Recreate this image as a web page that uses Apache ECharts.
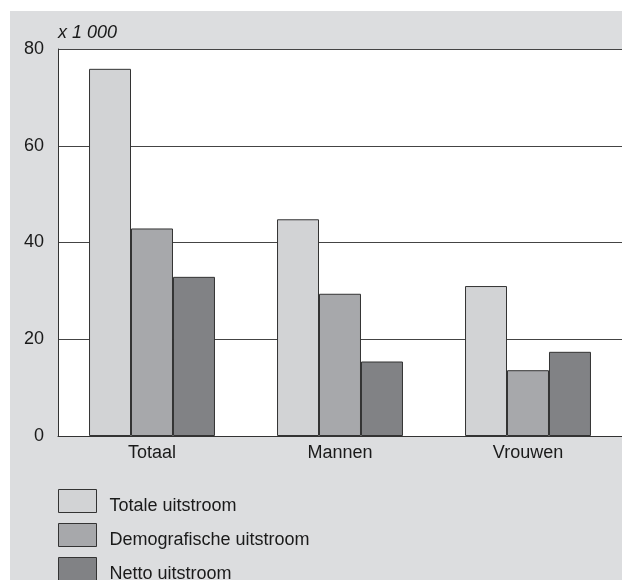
<!DOCTYPE html>
<html>
<head>
<meta charset="utf-8">
<style>
html,body{margin:0;padding:0;background:#ffffff;}
#chart{width:622px;height:580px;}
</style>
<script src="https://cdn.jsdelivr.net/npm/echarts@6/dist/echarts.min.js"></script>
</head>
<body>
<div id="chart"></div>
<script>
var categories = ['Totaal', 'Mannen', 'Vrouwen'];
var seriesNames = ['Totale uitstroom', 'Demografische uitstroom', 'Netto uitstroom'];
var totaleUitstroom = [75.9, 44.8, 31.0];
var demografischeUitstroom = [42.9, 29.4, 13.6];
var nettoUitstroom = [32.9, 15.4, 17.4];
var yTicks = [0, 20, 40, 60, 80];
var unitLabel = 'x 1 000';

var FONT = '"Liberation Sans", Arial, Helvetica, sans-serif';
var colors = ['#d2d3d5', '#a7a8ab', '#818285'];
var values = [totaleUitstroom, demografischeUitstroom, nettoUitstroom];

var chart = echarts.init(document.getElementById('chart'), null, {renderer: 'canvas'});
var option = {
  animation: false,
  textStyle: {fontFamily: FONT},
  graphic: [{
    type: 'rect', z: -10, silent: true,
    shape: {x: 10, y: 11, width: 612, height: 569},
    style: {fill: '#dcdddf'}
  }],
  grid: {
    left: 58, right: 0, top: 49, bottom: 144,
    show: true, backgroundColor: '#ffffff', borderWidth: 0
  },
  legend: {
    orient: 'vertical', left: 58, top: 489, height: 140, padding: 0,
    itemWidth: 38, itemHeight: 23, itemGap: 8,
    icon: 'rect',
    data: seriesNames,
    itemStyle: {borderWidth: 1, borderColor: '#333'},
    formatter: function (name) { return '{t|' + name + '}'; },
    textStyle: {
      fontFamily: FONT, fontSize: 18, color: '#1a1a1a',
      rich: {t: {fontFamily: FONT, fontSize: 18, color: '#1a1a1a', padding: [10, 0, 0, 8]}}
    }
  },
  xAxis: {
    type: 'category', data: categories,
    axisLine: {show: true, lineStyle: {color: '#333', width: 1}},
    axisTick: {show: false},
    axisLabel: {fontFamily: FONT, fontSize: 18, color: '#1a1a1a', margin: 8}
  },
  yAxis: {
    type: 'value', min: yTicks[0], max: yTicks[yTicks.length - 1], interval: 20,
    name: unitLabel, nameLocation: 'end', nameGap: 7,
    nameTextStyle: {fontFamily: FONT, fontSize: 18, fontStyle: 'italic', color: '#1a1a1a', align: 'left', padding: [0, 0, 0, 0]},
    axisLine: {show: true, lineStyle: {color: '#333', width: 1}},
    axisTick: {show: false},
    axisLabel: {fontFamily: FONT, fontSize: 18, color: '#1a1a1a', margin: 14},
    splitLine: {show: true, lineStyle: {color: '#444', width: 1}}
  },
  series: seriesNames.map(function (n, i) {
    return {
      name: n, type: 'bar', data: values[i],
      barGap: '0%', barCategoryGap: '33%',
      itemStyle: {color: colors[i], borderColor: '#333', borderWidth: 1}
    };
  })
};
chart.setOption(option);
</script>
</body>
</html>
